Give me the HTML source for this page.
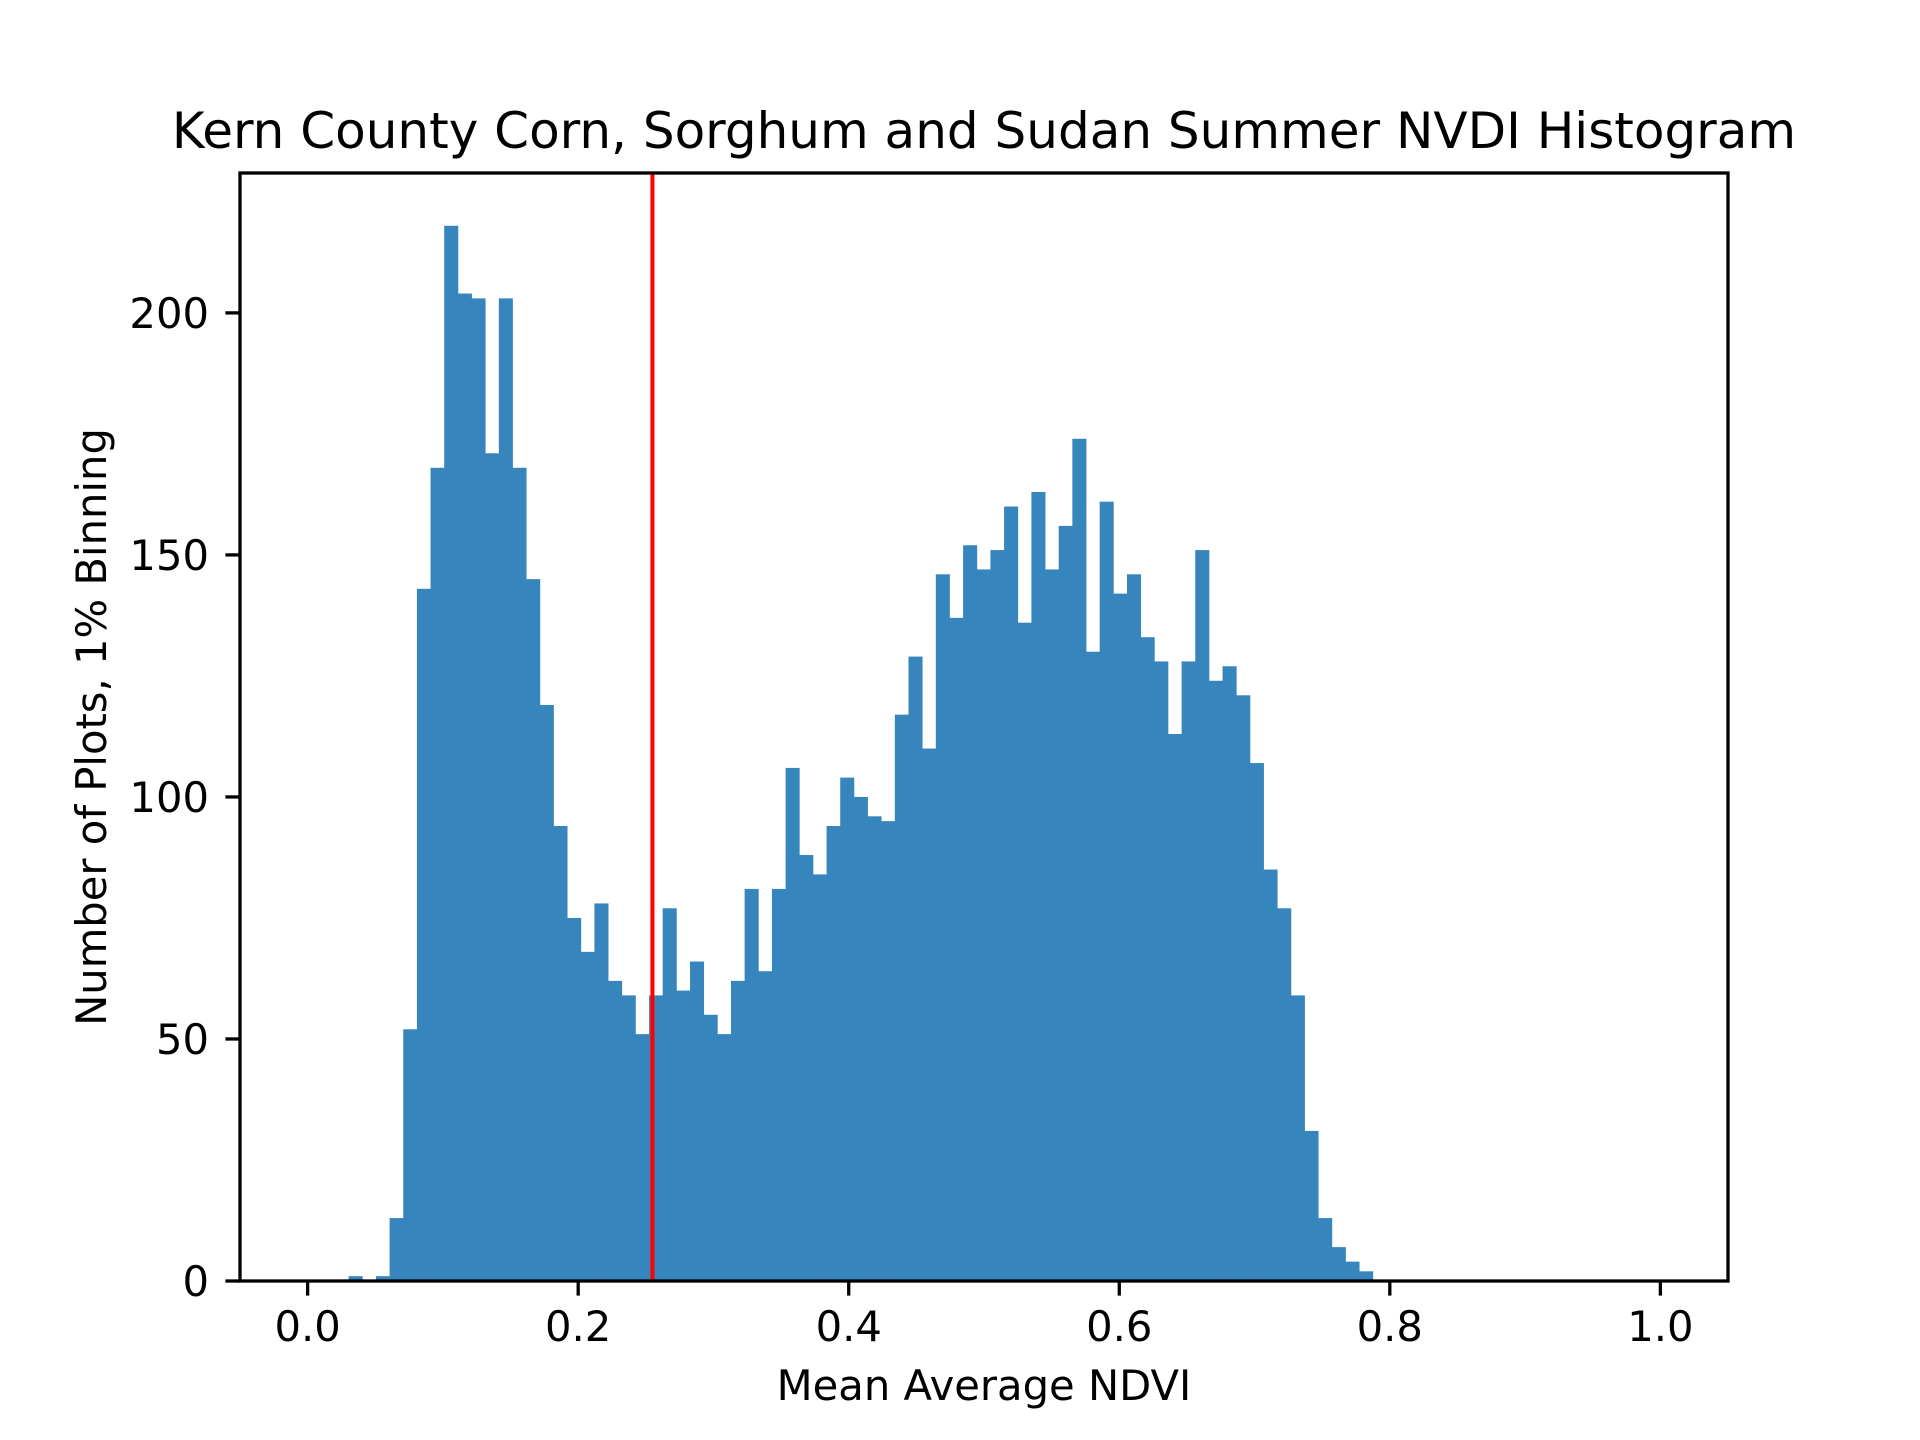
<!DOCTYPE html>
<html><head><meta charset="utf-8"><style>
html,body{margin:0;padding:0;background:#fff;}
svg{display:block;font-family:"DejaVu Sans","Liberation Sans",sans-serif;}
</style></head><body>
<svg id="chart" width="1920" height="1440" viewBox="0 0 1920 1440">
<rect width="1920" height="1440" fill="#fff"/>
<text x="984" y="148" font-size="50" text-anchor="middle">Kern County Corn, Sorghum and Sudan Summer NVDI Histogram</text>
<g id="bars"></g>
<g id="axes"></g>
<text x="984" y="1400" font-size="41.7" text-anchor="middle">Mean Average NDVI</text>
<text transform="translate(106,727) rotate(-90)" font-size="41.7" text-anchor="middle">Number of Plots, 1% Binning</text>
</svg>
<script>
const counts = [1,0,1,13,52,143,168,218,204,203,171,203,168,145,119,94,75,68,78,62,59,51,59,77,60,66,55,51,62,81,64,81,106,88,84,94,104,100,96,95,117,129,110,146,137,152,147,151,160,136,163,147,156,174,130,161,142,146,133,128,113,128,151,124,127,121,107,85,77,59,31,13,7,4,2];
const binStart = 0.0303;
const binEnd = 0.7874;
const thresholdValue = 0.2549;
const xTicks = [0.0,0.2,0.4,0.6,0.8,1.0];
const xTickLabels = ["0.0","0.2","0.4","0.6","0.8","1.0"];
const yTicks = [0,50,100,150,200];
const yTickLabels = ["0","50","100","150","200"];

const L=240,R=1728,T=173,B=1281;
const xmin=-0.05,xmax=1.05,ymax=218*1.05;
const X=v=>L+(v-xmin)/(xmax-xmin)*(R-L);
const Y=v=>B-v/ymax*(B-T);
const NS="http://www.w3.org/2000/svg";
function mk(tag,attrs,parent){const e=document.createElementNS(NS,tag);for(const k in attrs)e.setAttribute(k,attrs[k]);parent.appendChild(e);return e;}
const bars=document.getElementById('bars');
const axes=document.getElementById('axes');
const w=(binEnd-binStart)/counts.length;
counts.forEach((c,i)=>{
  if(c<=0)return;
  const x0=X(binStart+i*w),x1=X(binStart+(i+1)*w);
  const r=mk('rect',{x:x0,y:Y(c),width:x1-x0+0.4,height:B-Y(c),fill:'#3785bd'},bars);
  
  
});
const rl=mk('line',{x1:X(thresholdValue),x2:X(thresholdValue),y1:T,y2:B,stroke:'#ff0000','stroke-width':4},axes);


const fr=mk('rect',{x:L,y:T,width:R-L,height:B-T,fill:'none',stroke:'#000','stroke-width':3.3},axes);


xTicks.forEach((v,i)=>{
  const t=mk('line',{x1:X(v),x2:X(v),y1:B,y2:B+14.6,stroke:'#000','stroke-width':3.3},axes);
  
  
  const tx=mk('text',{x:X(v),y:1341,'font-size':41.7,'text-anchor':'middle'},axes);
  tx.textContent=xTickLabels[i];
  
  
});
yTicks.forEach((v,i)=>{
  const t=mk('line',{x1:L-14.6,x2:L,y1:Y(v),y2:Y(v),stroke:'#000','stroke-width':3.3},axes);
  
  
  const tx=mk('text',{x:209,y:Y(v)+15,'font-size':41.7,'text-anchor':'end'},axes);
  tx.textContent=yTickLabels[i];
  
  
});
</script>
</body></html>
